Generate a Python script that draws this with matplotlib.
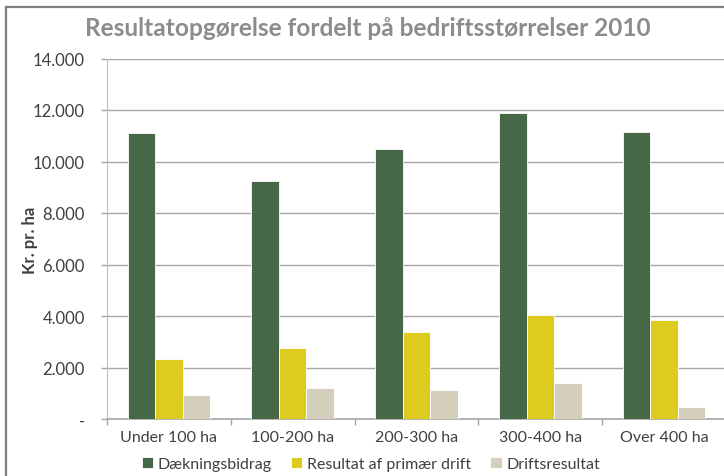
import matplotlib
matplotlib.use("Agg")
import matplotlib.pyplot as plt
import numpy as np
from matplotlib.ticker import FixedLocator

categories = ["Under 100 ha", "100-200 ha", "200-300 ha", "300-400 ha", "Over 400 ha"]
series_names = ["Dækningsbidrag", "Resultat af primær drift", "Driftsresultat"]
daekningsbidrag = [11100, 9230, 10500, 11900, 11130]
resultat_primaer = [2330, 2740, 3390, 4040, 3840]
driftsresultat = [940, 1200, 1130, 1410, 450]
yticks = [0, 2000, 4000, 6000, 8000, 10000, 12000, 14000]
ytick_labels = ["-", "2.000", "4.000", "6.000", "8.000", "10.000", "12.000", "14.000"]

colors = ["#466846", "#DDCB1F", "#D4CFBD"]
plt.rcParams['font.family'] = ['Lato', 'DejaVu Sans']

W, H = 724, 477
fig = plt.figure(figsize=(W / 100, H / 100), dpi=100)

# outer frame (left and top visible)
fig.add_artist(plt.Line2D([6 / W, 6 / W], [0, 1 - 8 / H], transform=fig.transFigure,
                          color="#7F7F7F", lw=1.6))
fig.add_artist(plt.Line2D([6 / W, 1.0], [1 - 8 / H, 1 - 8 / H], transform=fig.transFigure,
                          color="#7F7F7F", lw=1.6))

x0, x1 = 107, 726
y0, y1 = 420, 59.5
ax = fig.add_axes([x0 / W, 1 - y0 / H, (x1 - x0) / W, (y0 - y1) / H])

n = len(categories)
x = np.arange(n)
bw = 1 / 4.5
data = [daekningsbidrag, resultat_primaer, driftsresultat]
for i, (vals, c, name) in enumerate(zip(data, colors, series_names)):
    ax.bar(x + (i - 1) * bw, vals, width=bw, color=c, edgecolor="white", linewidth=0.6,
           label=name, zorder=3)

ax.set_xlim(-0.5, n - 0.5)
ax.set_ylim(0, 14000)
ax.set_yticks(yticks)
ax.set_yticklabels(ytick_labels)
ax.yaxis.grid(True, color="#A6A6A6", lw=1.0, zorder=0)
ax.set_xticks(x)
ax.set_xticklabels(categories)
ax.xaxis.set_minor_locator(FixedLocator(np.arange(-0.5, n, 1.0)))
ax.tick_params(axis='x', which='major', length=0, pad=8, labelsize=11.5, labelcolor="#404040")
ax.tick_params(axis='x', which='minor', length=4, color="#A6A6A6", width=1)
ax.tick_params(axis='y', length=4, color="#A6A6A6", width=1, pad=12, labelsize=12,
               labelcolor="#404040")

for s in ["top", "right"]:
    ax.spines[s].set_visible(False)
ax.spines["left"].set_color("#BFBFBF")
ax.spines["bottom"].set_color("#A6A6A6")
ax.spines["bottom"].set_linewidth(1.2)

fig.text(30 / W, 1 - 240 / H, "Kr. pr. ha", rotation=90, ha="center", va="center",
         fontsize=12, fontweight="bold", color="#404040")

fig.text(368 / W, 1 - 29 / H, "Resultatopgørelse fordelt på bedriftsstørrelser 2010",
         ha="center", va="center", fontsize=17.6, fontweight="bold", color="#8C8C8C")

handles, labels = ax.get_legend_handles_labels()
leg = fig.legend(handles, labels, loc="center", bbox_to_anchor=(371 / W, 1 - 465 / H),
                 ncol=3, frameon=False, fontsize=11.5, handlelength=0.7, handleheight=0.7,
                 handletextpad=0.3, columnspacing=1.2, labelcolor="#404040")

fig.savefig("out.png", dpi=100)
